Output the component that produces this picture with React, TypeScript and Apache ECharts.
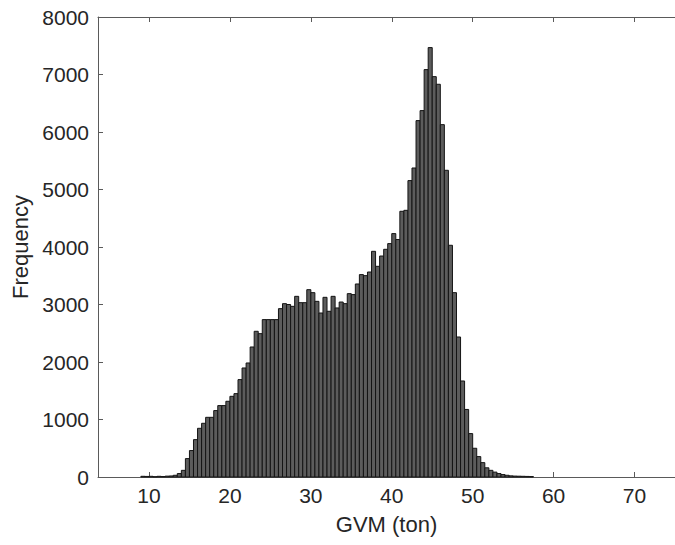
import React, { useEffect, useRef } from "react";
import * as echarts from "echarts";

// Histogram: bins of 0.5 ton starting at 9.0 ton
const binStart = 9.0;
const binWidth = 0.5;
const counts = [
  12, 10, 12, 5, 12, 8, 15, 18, 30, 60,
  116, 320, 460, 650, 847, 934, 1038, 1038, 1155, 1242,
  1242, 1317, 1403, 1450, 1694, 1896, 1983, 2261, 2534, 2493,
  2737, 2737, 2737, 2737, 2928, 3015, 3000, 2968, 3142, 3032,
  3032, 3258, 3206, 3055, 2852, 3125, 2882, 3142, 2940, 3043,
  3015, 3189, 3172, 3357, 3520, 3502, 3565, 3925, 3664, 3843,
  3960, 4059, 4233, 4130, 4621, 4638, 5155, 5374, 6198, 6372,
  7085, 7468, 6963, 6830, 6128, 5334, 4030, 3206, 2435, 1670,
  1175, 755, 500, 355, 250, 160, 116, 85, 60, 42,
  30, 20, 16, 14, 12, 10, 8,
];
const xTicks = [10, 20, 30, 40, 50, 60, 70];
const xMin = 3.7;
const xMax = 75;
const yTicksMax = 8000;
const xLabel = "GVM (ton)";
const yLabel = "Frequency";

const FONT = "'Liberation Sans', Arial, Helvetica, sans-serif";
const LINE = "#5a5a5a";
const TEXT = "#262626";

export default function App() {
  const ref = useRef<HTMLDivElement>(null);
  useEffect(() => {
    if (!ref.current) return;
    const chart = echarts.init(ref.current, null, { renderer: "svg" });
    const data = counts.map((c, i) => {
      const left = binStart + i * binWidth;
      return [left, left + binWidth, c];
    });
    chart.setOption({
      animation: false,
      backgroundColor: "#ffffff",
      grid: { left: 98, right: 0, top: 17, bottom: 68 },
      xAxis: [
        {
          type: "value",
          min: xMin,
          max: xMax,
          position: "bottom",
          name: xLabel,
          nameLocation: "middle",
          nameGap: 36,
          nameTextStyle: { fontSize: 22, color: TEXT, fontFamily: FONT },
          axisLine: { show: true, onZero: false, lineStyle: { color: LINE, width: 1 } },
          axisTick: { show: true, inside: true, length: 5, customValues: xTicks, lineStyle: { color: LINE } },
          axisLabel: { show: true, customValues: xTicks, fontSize: 21, color: TEXT, fontFamily: FONT, margin: 8 },
          splitLine: { show: false },
        },
        {
          type: "value",
          min: xMin,
          max: xMax,
          position: "top",
          axisLine: { show: true, onZero: false, lineStyle: { color: LINE, width: 1 } },
          axisTick: { show: true, inside: true, length: 5, customValues: xTicks, lineStyle: { color: LINE } },
          axisLabel: { show: false },
          splitLine: { show: false },
        },
      ],
      yAxis: {
        type: "value",
        min: 0,
        max: yTicksMax,
        interval: 1000,
        name: yLabel,
        nameLocation: "middle",
        nameGap: 60,
        nameTextStyle: { fontSize: 22, color: TEXT, fontFamily: FONT },
        axisLine: { show: true, lineStyle: { color: LINE, width: 1 } },
        axisTick: { show: true, inside: true, length: 5, lineStyle: { color: LINE } },
        axisLabel: {
          fontSize: 21,
          color: TEXT,
          fontFamily: FONT,
          margin: 9,
          formatter: (v: number) => String(v),
        },
        splitLine: { show: false },
      },
      series: [
        {
          type: "custom",
          xAxisIndex: 0,
          data,
          encode: { x: [0, 1], y: 2 },
          renderItem: (params: any, api: any) => {
            const x0 = api.value(0);
            const x1 = api.value(1);
            const y = api.value(2);
            const p0 = api.coord([x0, y]);
            const p1 = api.coord([x1, 0]);
            return {
              type: "rect",
              shape: { x: p0[0], y: p0[1], width: p1[0] - p0[0], height: p1[1] - p0[1] },
              style: { fill: "#5c5c5c", stroke: "#141414", lineWidth: 1 },
            };
          },
        },
      ],
    });
    return () => chart.dispose();
  }, []);
  return (
    <div
      ref={ref}
      style={{ position: "fixed", left: 0, top: 0, width: 675, height: 545 }}
    />
  );
}
